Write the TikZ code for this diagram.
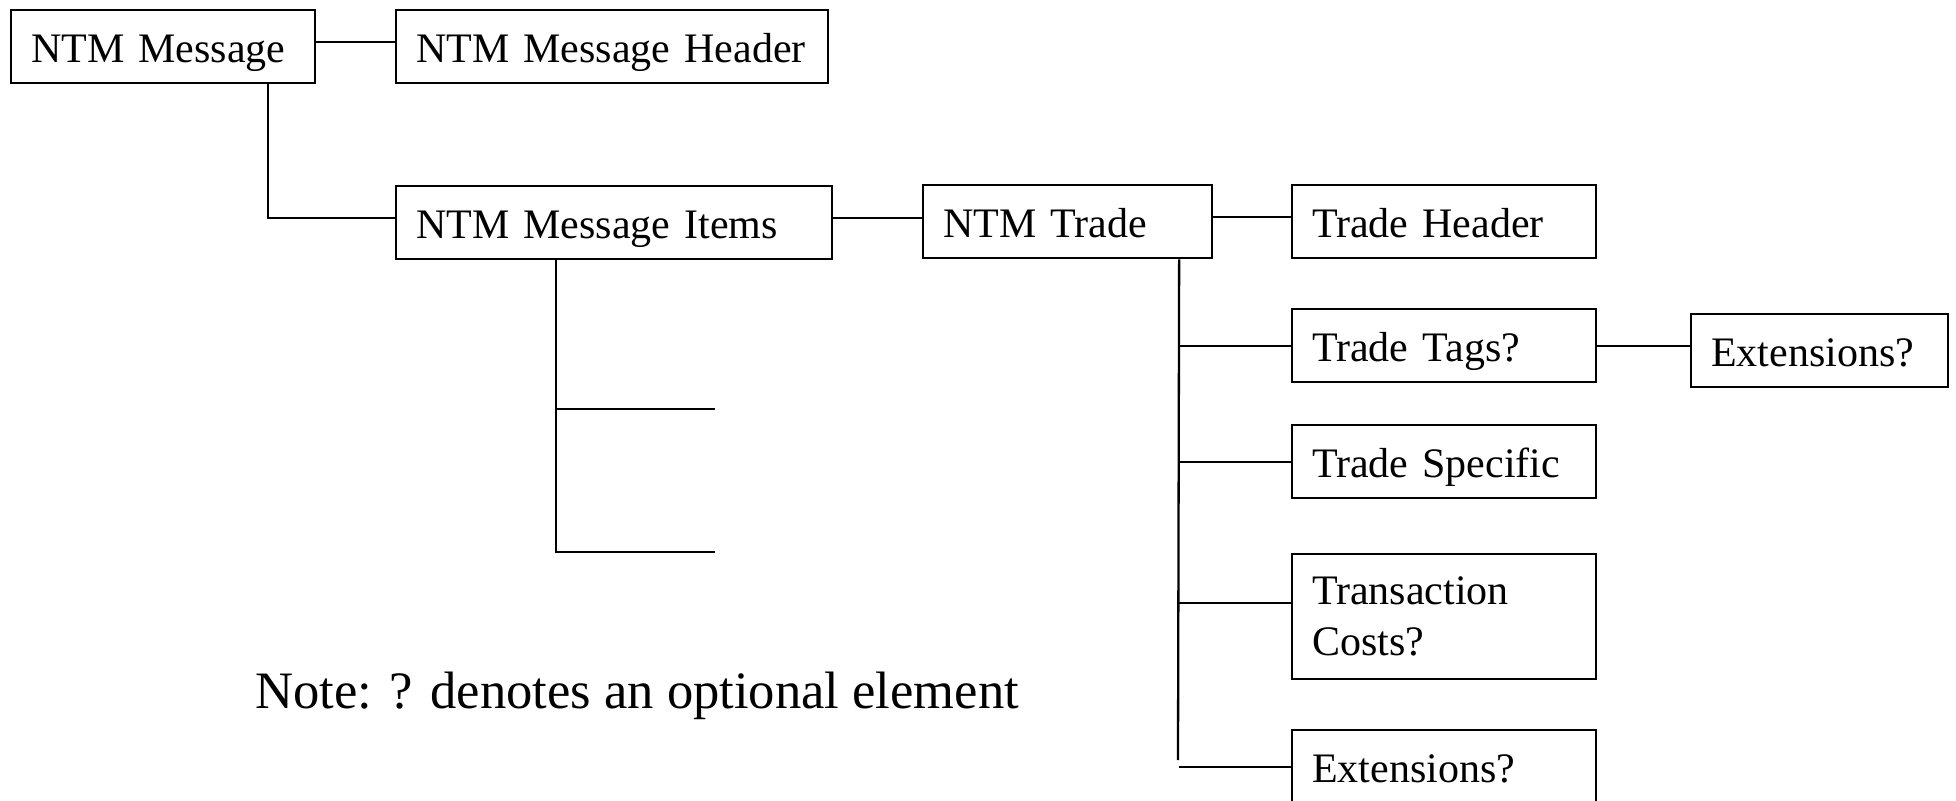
\documentclass[tikz,border=0pt]{standalone}
\usepackage{fontspec}
\setmainfont{Liberation Serif}
\newcommand{\boxfont}{\fontsize{21}{25.5}\selectfont}
\newcommand{\notefont}{\fontsize{26.3}{32}\selectfont}
\tikzset{
	tbox/.style={draw, rectangle, anchor=north west, inner xsep=10pt, inner ysep=0pt,
		minimum height=36.5pt, text width=#1, align=left, font=\boxfont},
	tline/.style={tbox=#1, execute at begin node={\rule[-0.22em]{0pt}{1.19em}}}
}
\begin{document}
\begin{tikzpicture}[x=0.5pt, y=-0.5pt, line width=1.15pt]
			\useasboundingbox (0,0) rectangle (1956,800);

			\node[tline=132pt] (msg) at (10,9) {NTM Message};
			\node[tline=196pt] (hdr) at (395,9) {NTM Message Header};
			\node[tline=198pt] (items) at (395,185) {NTM Message Items};
			\node[tline=124.5pt] (trade) at (922,184) {NTM Trade};

			\node[tline=132pt] (th) at (1291,184) {Trade Header};
			\node[tline=132pt] (tags) at (1291,308) {Trade Tags?};
			\node[tline=108.5pt] (ext1) at (1690,313) {Extensions?};
			\node[tline=132pt] (spec) at (1291,424) {Trade Specific};
			\node[tbox=132pt, minimum height=62.5pt] (costs) at (1291,553) {Transaction\\Costs?};
			\node[tline=132pt] (ext2) at (1291,729) {Extensions?};

			\node[anchor=base west, inner sep=0pt, font=\notefont] (note) at (254,708) {Note: ? denotes an optional element};

			\coordinate (mdrop) at ([xshift=52.5pt]msg.south);
			\coordinate (idrop) at ([xshift=-29pt]items.south);
			\coordinate (tdrop) at ([xshift=55.75pt]trade.south);
			\coordinate (ia) at (715,409);
			\coordinate (ib) at (715,552);
			\coordinate (tend) at (1178,760);

			\draw ([yshift=2.2pt]msg.east) -- ([yshift=2.2pt]msg.east -| hdr.west);
			\draw (mdrop) |- ([yshift=2.2pt]items.west);
			\draw ([yshift=2.2pt]items.east) -- ([yshift=2.2pt]items.east -| trade.west);
			\draw ([yshift=2.2pt]trade.east) -- ([yshift=2.2pt]trade.east -| th.west);

			% empty branches under the items
			\draw (idrop) |- (ib);
			\draw (idrop |- ia) -- (ia);

			\draw (tdrop) -- (tend);
			\draw (tags.west -| tdrop) -- (tags.west);
			\draw (spec.west -| tdrop) -- (spec.west);
			\draw ([yshift=6.75pt]costs.west -| tdrop) -- ([yshift=6.75pt]costs.west);
			\draw (ext2.west -| tdrop) -- (ext2.west);
			\draw (tags.east) -- (tags.east -| ext1.west);
\end{tikzpicture}
\end{document}
